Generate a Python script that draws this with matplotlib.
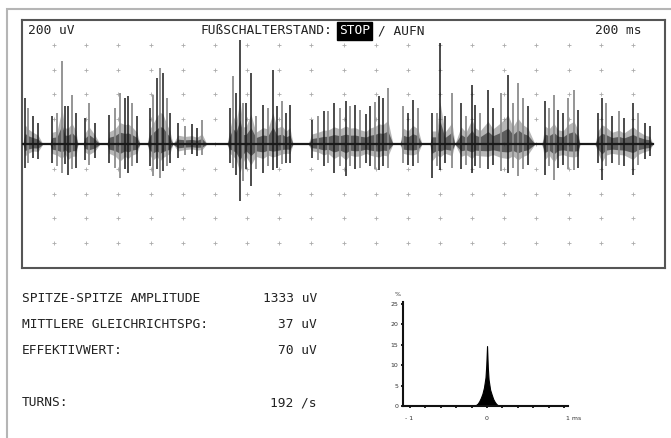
import numpy as np
import matplotlib.pyplot as plt
from matplotlib.patches import Rectangle

# EMG trace, 200 uV/div and 200 ms/div
burst_start = [6, 174, 380, 529, 778, 939, 1275, 1779, 2351, 2538, 2693, 3234, 3564]
burst_end = [130, 348, 485, 734, 939, 1150, 1686, 2308, 2488, 2693, 3191, 3471, 3925]

spike_t = [19, 37, 68, 100,
           187, 218, 249, 267, 286, 311, 336,
           392, 417, 454,
           541, 578, 610, 641, 659, 684, 715,
           796, 815, 840, 858, 877, 902, 920,
           970, 1014, 1057, 1088, 1120,
           1294, 1312, 1331, 1356, 1375, 1393, 1424, 1455, 1499, 1530, 1561, 1586, 1617, 1642, 1667,
           1804, 1841, 1878, 1903, 1941, 1978, 2015, 2040, 2071, 2102, 2140, 2165, 2196, 2221, 2245, 2276,
           2370, 2401, 2432, 2463,
           2550, 2581, 2600, 2631, 2675,
           2731, 2762, 2799, 2818, 2849, 2899, 2930, 2979, 3023, 3054, 3085, 3116, 3147,
           3253, 3278, 3309, 3334, 3365, 3396, 3433, 3458,
           3583, 3608, 3632, 3670, 3713, 3744, 3800, 3832, 3875, 3906]
spike_up = [370, 290, 225, 170,
            225, 250, 670, 306, 306, 395, 250,
            210, 330, 170,
            234, 290, 411, 370, 387, 330, 225,
            290, 395, 532, 612, 572, 370, 250,
            170, 145, 160, 129, 193,
            290, 548, 411, 840, 330, 330, 572, 225, 314, 290, 596, 306, 347, 250, 314,
            193, 225, 266, 266, 330, 290, 347, 306, 314, 274, 242, 306, 338, 387, 370, 451,
            306, 250, 355, 290,
            250, 250, 815, 225, 411,
            330, 225, 475, 314, 250, 435, 290, 411, 556, 330, 492, 370, 306,
            347, 290, 395, 274, 250, 370, 435, 274,
            250, 370, 330, 225, 266, 210, 330, 250, 170, 145]
spike_down = [-195, -150, -113, -120,
              -153, -180, -234, -160, -250, -200, -193,
              -130, -170, -113,
              -150, -193, -274, -200, -234, -180, -150,
              -180, -258, -200, -274, -220, -180, -153,
              -113, -90, -80, -97, -90,
              -153, -190, -250, -459, -300, -200, -338, -200, -234, -180, -210, -190, -160, -150, -153,
              -110, -130, -177, -150, -234, -180, -258, -180, -200, -193, -150, -180, -200, -210, -180, -193,
              -150, -170, -177, -150,
              -274, -180, -210, -150, -190,
              -200, -170, -234, -180, -190, -200, -170, -218, -234, -190, -258, -200, -170,
              -250, -180, -290, -190, -170, -200, -210, -193,
              -150, -290, -180, -150, -170, -177, -250, -170, -120, -100]
spike_grey = [0, 1, 0, 0,
              0, 1, 1, 0, 0, 1, 0,
              0, 1, 0,
              0, 1, 1, 0, 0, 1, 0,
              0, 1, 0, 1, 0, 1, 0,
              0, 1, 0, 0, 1,
              0, 1, 0, 0, 1, 0, 0, 1, 0, 1, 0, 0, 1, 0, 0,
              0, 1, 0, 1, 0, 1, 0, 1, 0, 1, 0, 0, 1, 0, 0, 1,
              1, 0, 0, 1,
              0, 1, 0, 0, 1,
              0, 1, 0, 0, 1, 0, 0, 1, 0, 1, 1, 1, 0,
              0, 1, 1, 0, 0, 1, 1, 0,
              0, 0, 1, 0, 1, 0, 0, 1, 0, 0]
trace_end = 3925

# amplitude histogram
hist_t = [-0.14, -0.12, -0.10, -0.08, -0.06, -0.04, -0.02, -0.01, 0.0,
          0.01, 0.02, 0.04, 0.06, 0.08, 0.10, 0.12, 0.14]
hist_n = [0.3, 0.6, 1.2, 2.0, 3.0, 4.5, 7.0, 10.0, 14.7,
          9.5, 6.5, 4.0, 2.8, 1.7, 1.0, 0.5, 0.2]
hist_yticks = [0, 5, 10, 15, 20, 25]

labels = ['SPITZE-SPITZE AMPLITUDE', 'MITTLERE GLEICHRICHTSPG:', 'EFFEKTIVWERT:', 'TURNS:']
values = ['1333 uV', '37 uV', '70 uV', '192 /s']
label_y = [298, 325, 351, 403]

W, H = 671, 438


def fx(x):
    return x / W


def fy(y):
    return 1 - y / H


mono = dict(family='DejaVu Sans Mono', size=9.3, color='#222222')

fig = plt.figure(figsize=(6.71, 4.38), dpi=100)
fig.add_artist(Rectangle((fx(7), -0.05), 1.2, fy(9) + 0.05, transform=fig.transFigure,
                         fill=False, ec='#b5b5b5', lw=1.5))

ax = fig.add_axes([fx(22), fy(268), 643 / W, 248 / H])
ax.set_xlim(0, 4000)
ax.set_ylim(-1000, 1000)
ax.set_xticks([])
ax.set_yticks([])
for s in ax.spines.values():
    s.set_color('#555555')
    s.set_linewidth(1.5)

# grid dots
gx, gy = np.meshgrid(np.arange(200, 4000, 200), np.arange(-800, 1000, 200))
ax.plot(gx.ravel(), gy.ravel(), '+', ms=2.5, mew=0.6, color='#ababab', zorder=1)

spike_t = np.array(spike_t)
spike_up = np.array(spike_up)
spike_down = np.array(spike_down)

# dense part of each burst, outline follows the spikes
for t0, t1 in zip(burst_start, burst_end):
    m = (spike_t > t0) & (spike_t < t1)
    xs = np.r_[t0, spike_t[m], t1]
    up = np.r_[0, spike_up[m] * 0.42, 0]
    dn = np.r_[0, spike_down[m] * 0.5, 0]
    ax.fill_between(xs, up, dn, color='#6e6e6e', alpha=0.5, lw=0, zorder=2)
    ax.fill_between(xs, up * 0.55, dn * 0.55, color='#222222', alpha=0.6, lw=0, zorder=2)

g = np.array(spike_grey) == 1
ax.vlines(spike_t[g], spike_down[g], spike_up[g], color='#8c8c8c', lw=1.3, zorder=3)
ax.vlines(spike_t[~g], spike_down[~g], spike_up[~g], color='#1a1a1a', lw=1.1, zorder=4)
ax.plot([0, trace_end], [0, 0], color='#1a1a1a', lw=1.6, zorder=5)

# header
fig.text(fx(28), fy(31), '200 uV', va='center', **mono)
fig.text(fx(200), fy(31), 'FUßSCHALTERSTAND:', va='center', **mono)
fig.text(fx(339), fy(31), 'STOP', va='center', family='DejaVu Sans Mono', size=9.3, color='white',
         bbox=dict(facecolor='black', edgecolor='black', pad=1.5))
fig.text(fx(378), fy(31), '/ AUFN', va='center', **mono)
fig.text(fx(595), fy(31), '200 ms', va='center', **mono)

# measurements
for lab, val, y in zip(labels, values, label_y):
    fig.text(fx(22), fy(y), lab, va='center', **mono)
    fig.text(fx(317), fy(y), val, va='center', ha='right', **mono)

# histogram
hx = fig.add_axes([fx(403), fy(406), 165 / W, 104 / H])
hx.set_xlim(-1.09, 1.05)
hx.set_ylim(0, 25.5)
hx.fill_between(hist_t, hist_n, 0, color='black', lw=0.8, ec='black')
for k in ['top', 'right']:
    hx.spines[k].set_visible(False)
for k in ['left', 'bottom']:
    hx.spines[k].set_linewidth(1.5)
    hx.spines[k].set_color('#111111')
hx.set_yticks(hist_yticks)
hx.set_yticklabels([str(v) for v in hist_yticks], fontsize=4.5, color='#333333')
hx.set_xticks(np.linspace(-1, 1, 11))
hx.set_xticklabels([])
hx.tick_params(axis='both', length=1.5, width=1.2, pad=2)
hx.patch.set_alpha(0)
fig.text(fx(398), fy(294), '%', fontsize=4.5, color='#333333', ha='center', va='center')
fig.text(fx(409), fy(418), '- 1', fontsize=4.5, color='#333333', ha='center', va='center')
fig.text(fx(487), fy(418), '0', fontsize=4.5, color='#333333', ha='center', va='center')
fig.text(fx(566), fy(418), '1 ms', fontsize=4.5, color='#333333', ha='left', va='center')

fig.savefig('out.png', dpi=100)
